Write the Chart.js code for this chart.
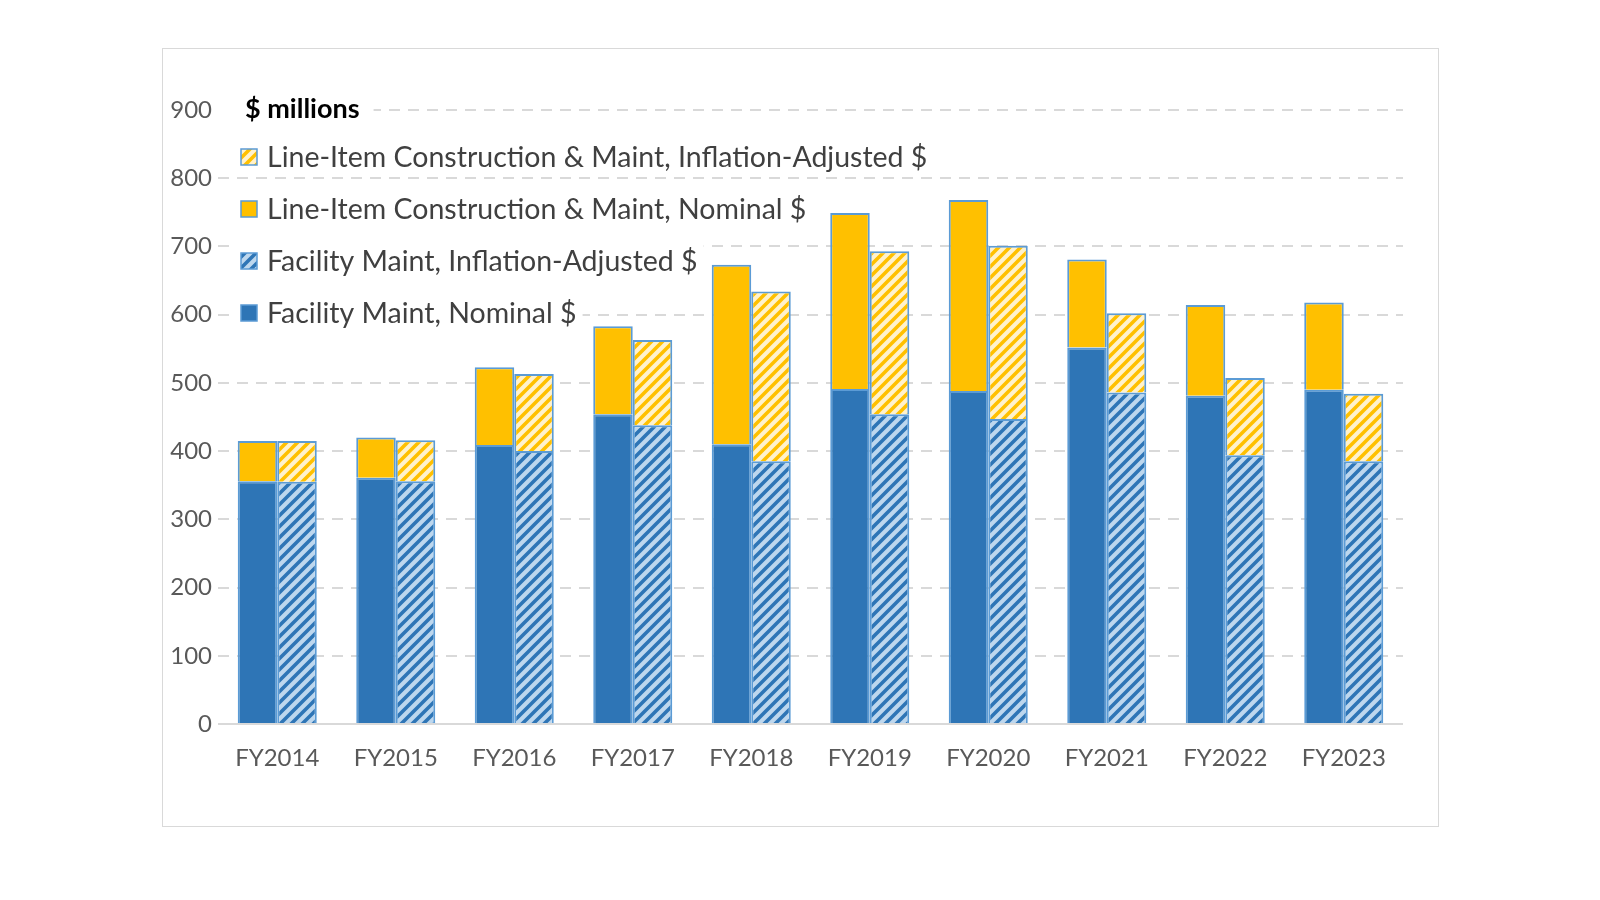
<!DOCTYPE html>
<html>
<head>
<meta charset="utf-8">
<script src="https://cdn.jsdelivr.net/npm/chart.js@4.4.0/dist/chart.umd.min.js"></script>
<style>
  body { margin: 0; background: #fff; }
  #frame {
    position: absolute; left: 162px; top: 48px; width: 1277px; height: 779px;
    border: 1px solid #d9d9d9; box-sizing: border-box;
  }
</style>
</head>
<body>
<div id="frame"><canvas id="chart"></canvas></div>
<script>
const years = ["FY2014", "FY2015", "FY2016", "FY2017", "FY2018", "FY2019", "FY2020", "FY2021", "FY2022", "FY2023"];

// $ millions
const facilityNominal = [356, 361, 409, 454, 410, 491, 488, 552, 481, 490];
const facilityAdjusted = [355, 356, 400, 438, 385, 454, 447, 486, 394, 385];
const lineItemNominal = [59, 59, 114, 129, 263, 258, 280, 129, 133, 128];
const lineItemAdjusted = [60, 60, 113, 125, 249, 239, 254, 116, 113, 99];

const yTicks = [0, 100, 200, 300, 400, 500, 600, 700, 800, 900];

function hatch(bg, fg) {
  const s = 11;
  const c = document.createElement("canvas");
  c.width = s;
  c.height = s;
  const x = c.getContext("2d");
  x.fillStyle = bg;
  x.fillRect(0, 0, s, s);
  x.strokeStyle = fg;
  x.lineWidth = 3.6;
  x.beginPath();
  x.moveTo(-1, s + 1); x.lineTo(s + 1, -1);
  x.moveTo(-s / 2, s / 2); x.lineTo(s / 2, -s / 2);
  x.moveTo(s / 2, s * 1.5); x.lineTo(s * 1.5, s / 2);
  x.stroke();
  return x.createPattern(c, "repeat");
}

const blueHatch = hatch("#bdd7ee", "#2e75b6");
const goldHatch = hatch("#fff2cc", "#ffc000");

// legend drawn inside the plot, top-left, newest series first
const insideLegend = {
  id: "insideLegend",
  beforeDatasetsDraw(chart) {
    const ctx = chart.ctx;
    ctx.save();
    ctx.textBaseline = "middle";
    ctx.textAlign = "left";

    ctx.font = "bold 27px Lato";
    const tw = ctx.measureText("$ millions").width;
    ctx.fillStyle = "#fff";
    ctx.fillRect(chart.chartArea.left, 42, 82 - chart.chartArea.left + tw + 14, 36);
    ctx.fillStyle = "#000";
    ctx.fillText("$ millions", 82, 60);

    ctx.font = "28.5px Lato";
    const sets = chart.data.datasets.slice().reverse();
    sets.forEach((ds, i) => {
      const y = 108 + i * 52;
      const w = ctx.measureText(ds.label).width;
      ctx.fillStyle = "#fff";
      ctx.fillRect(74, y - 17, 104 - 74 + w + 6, 34);
      ctx.fillStyle = ds.backgroundColor;
      ctx.fillRect(78, y - 8, 16, 16);
      ctx.strokeStyle = "#5b9bd5";
      ctx.lineWidth = 1.5;
      ctx.strokeRect(78, y - 8, 16, 16);
      ctx.fillStyle = "#404040";
      ctx.fillText(ds.label, 104, y + 1);
    });
    ctx.restore();
  },
};

const barStyle = {
  borderColor: "#5b9bd5",
  borderWidth: 2,
  categoryPercentage: 0.667,
  barPercentage: 1.0,
};

new Chart(document.getElementById("chart"), {
  type: "bar",
  data: {
    labels: years,
    datasets: [
      { label: "Facility Maint, Nominal $", data: facilityNominal, stack: "nominal", backgroundColor: "#2e75b6", ...barStyle },
      { label: "Facility Maint, Inflation-Adjusted $", data: facilityAdjusted, stack: "adjusted", backgroundColor: blueHatch, ...barStyle },
      { label: "Line-Item Construction & Maint, Nominal $", data: lineItemNominal, stack: "nominal", backgroundColor: "#ffc000", ...barStyle },
      { label: "Line-Item Construction & Maint, Inflation-Adjusted $", data: lineItemAdjusted, stack: "adjusted", backgroundColor: goldHatch, ...barStyle },
    ],
  },
  options: {
    responsive: true,
    maintainAspectRatio: false,
    animation: false,
    layout: { padding: { left: 0, right: 35, top: 61, bottom: 0 } },
    plugins: {
      legend: { display: false },
      tooltip: { enabled: false },
    },
    scales: {
      x: {
        stacked: true,
        grid: { display: false, drawTicks: false },
        border: { display: false },
        ticks: { color: "#595959", font: { family: "Lato", size: 24 }, padding: 20 },
        afterFit: (s) => { s.height = 102; },
      },
      y: {
        stacked: true,
        min: 0,
        max: 900,
        afterBuildTicks: (s) => { s.ticks = yTicks.map((v) => ({ value: v })); },
        grid: {
          color: "#d9d9d9",
          lineWidth: 2,
          drawTicks: false,
        },
        border: {
          display: false,
          dash: (c) => (c.tick && c.tick.value === 0 ? [] : [11, 8]),
        },
        ticks: { color: "#595959", font: { family: "Lato", size: 24 }, padding: 6 },
        afterFit: (s) => { s.width = 55; },
      },
    },
  },
  plugins: [insideLegend],
});
</script>
</body>
</html>
